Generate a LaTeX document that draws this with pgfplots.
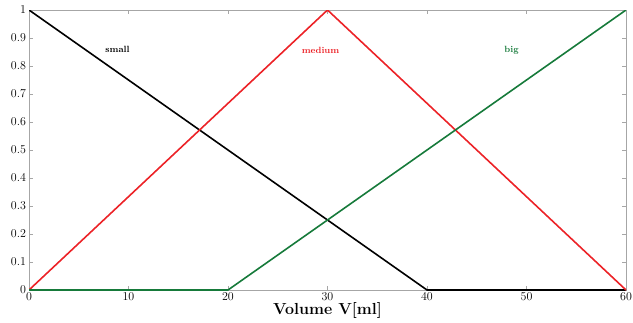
\documentclass[border=0pt]{standalone}
\usepackage{pgfplots}
\pgfplotsset{compat=1.18}
\usetikzlibrary{calc}
\definecolor{myred}{RGB}{236,34,39}
\definecolor{mygreen}{RGB}{22,122,58}
\begin{document}
\begin{tikzpicture}
\begin{axis}[
  name=ax,
  scale only axis,
  width=597pt, height=280pt,
  xmin=0, xmax=60, ymin=0, ymax=1,
  xtick={0,10,...,60},
  ytick={0,0.1,...,1},
  yticklabels={0,0.1,0.2,0.3,0.4,0.5,0.6,0.7,0.8,0.9,1},
  tick align=inside,
  axis line style={gray!70},
  major tick style={gray!70},
  major tick length=4pt,
  tick label style={font=\fontsize{12}{13}\selectfont},
  yticklabel style={xshift=0.5pt},
  xticklabel style={yshift=1pt},
  xlabel={\fontsize{16}{18}\selectfont\bfseries Volume V[ml]},
  xlabel style={at={(axis description cs:0.5,0)}, anchor=base, yshift=-24pt},
]
\addplot[black, line width=1.6pt] coordinates {(0,1) (40,0) (60,0)};
\addplot[myred, line width=1.6pt] coordinates {(0,0) (30,1) (60,0)};
\addplot[mygreen, line width=1.6pt] coordinates {(0,0) (20,0) (60,1)};
\node[font=\fontsize{9}{10}\selectfont\bfseries, black] at (axis cs:8.9,0.86) {small};
\node[font=\fontsize{9}{10}\selectfont\bfseries, myred] at (axis cs:29.3,0.855) {medium};
\node[font=\fontsize{9}{10}\selectfont\bfseries, mygreen] at (axis cs:48.5,0.857) {big};
\end{axis}
\pgfresetboundingbox
\useasboundingbox ($(ax.south west)+(-29pt,-32pt)$) rectangle ($(ax.north east)+(7pt,10pt)$);
\end{tikzpicture}
\end{document}
